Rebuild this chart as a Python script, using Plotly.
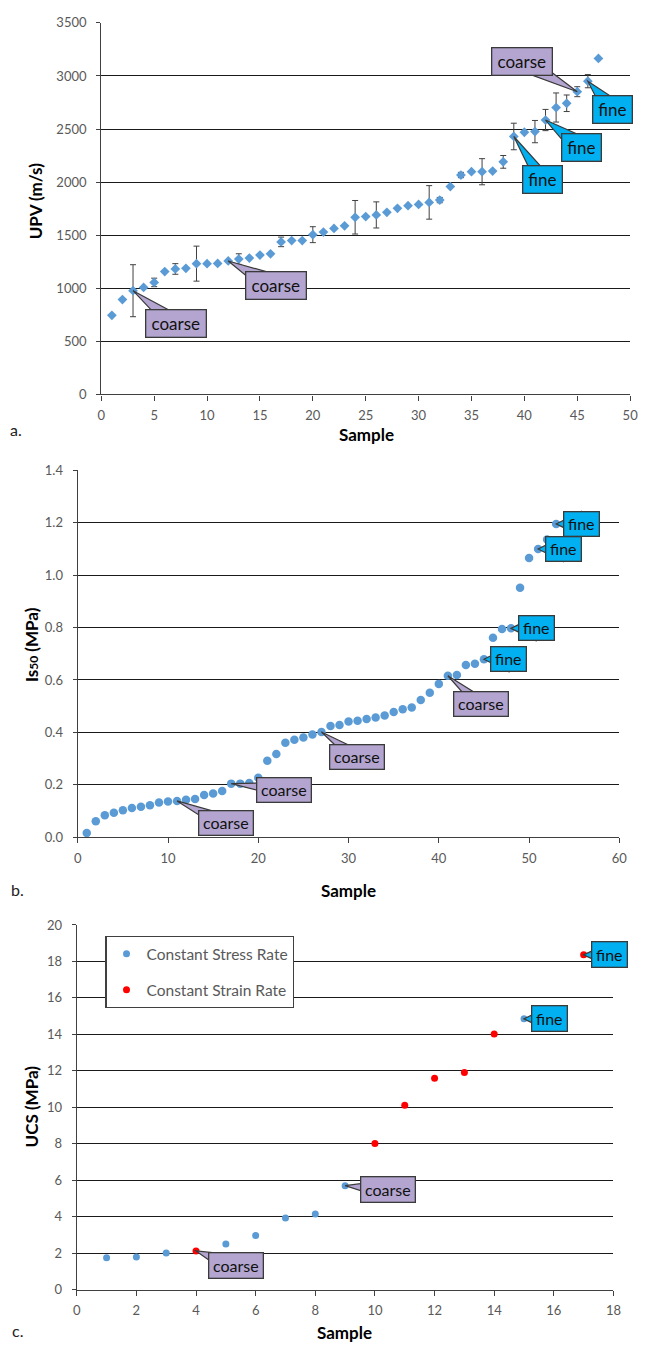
import math
import plotly.graph_objects as go

# ---------------- data ----------------
# Panel a: UPV (m/s) per sample, with error bars
upv_sample = list(range(1, 48))
upv_value = [745, 894, 977, 1008, 1055, 1157, 1182, 1188, 1232, 1232,
             1234, 1257, 1275, 1285, 1313, 1325, 1437, 1449, 1449, 1505,
             1530, 1564, 1589, 1669, 1676, 1691, 1716, 1753, 1778, 1790,
             1809, 1831, 1958, 2067, 2098, 2098, 2104, 2191, 2430, 2470,
             2476, 2585, 2703, 2743, 2852, 2951, 3165]
upv_error = [0, 0, 245, 0, 40, 0, 50, 0, 165, 0,
             0, 0, 50, 0, 0, 0, 45, 0, 0, 75,
             0, 0, 0, 158, 0, 123, 0, 0, 0, 0,
             158, 25, 0, 25, 0, 123, 0, 60, 125, 0,
             105, 100, 137, 78, 47, 62, 0]

# Panel b: Is50 (MPa) per sample
is50_sample = list(range(1, 54))
is50_value = [0.015, 0.060, 0.083, 0.093, 0.102, 0.111, 0.116, 0.121, 0.132, 0.136,
              0.138, 0.142, 0.145, 0.161, 0.166, 0.176, 0.204, 0.204, 0.206, 0.226,
              0.291, 0.317, 0.360, 0.372, 0.380, 0.392, 0.401, 0.424, 0.428, 0.441,
              0.444, 0.451, 0.457, 0.464, 0.478, 0.488, 0.495, 0.523, 0.551, 0.585,
              0.616, 0.619, 0.657, 0.662, 0.679, 0.761, 0.795, 0.797, 0.952, 1.066,
              1.100, 1.136, 1.196]

# Panel c: UCS (MPa)
stress_sample = [1, 2, 3, 5, 6, 7, 8, 9, 15]
stress_value = [1.74, 1.79, 2.01, 2.50, 2.97, 3.92, 4.14, 5.70, 14.85]
strain_sample = [4, 10, 11, 12, 13, 14, 17]
strain_value = [2.12, 8.01, 10.11, 11.59, 11.90, 14.02, 18.36]

series_names = ["Constant Stress Rate", "Constant Strain Rate"]

# callouts: (sample, label) / (series, sample, label)
callouts_a = [(3, "coarse"), (12, "coarse"), (45, "coarse"), (46, "fine"), (42, "fine"), (39, "fine")]
callouts_b = [(11, "coarse"), (17, "coarse"), (27, "coarse"), (41, "coarse"),
              (45, "fine"), (48, "fine"), (51, "fine"), (53, "fine")]
callouts_c = [("strain", 4, "coarse"), ("stress", 9, "coarse"), ("stress", 15, "fine"), ("strain", 17, "fine")]

# ---------------- styling ----------------
PAGE_W, PAGE_H = 646, 1351
OX, OY = 8, 8                      # default page body margin
W, H = PAGE_W - OX, PAGE_H - 2 * OY
FONT = "Lato, 'Open Sans', sans-serif"
BLUE = "#5B9BD5"
RED = "#FF0000"
COARSE = "#B3A5CF"
FINE = "#00B0F0"
EDGE = "#3A3A3A"
TICKC = "#595959"

def px_x(a, b):
    return [(a - OX) / W, (b - OX) / W]

def px_y(top, bottom):
    return [1 - (bottom - OY) / H, 1 - (top - OY) / H]

fig = go.Figure()

fig.add_trace(go.Scatter(
    x=upv_sample, y=upv_value, mode="markers", xaxis="x", yaxis="y",
    marker=dict(symbol="diamond", size=7.5, color=BLUE),
    error_y=dict(type="data", array=upv_error, visible=True, color="#404040", thickness=1, width=3),
    showlegend=False))

fig.add_trace(go.Scatter(
    x=is50_sample, y=is50_value, mode="markers", xaxis="x2", yaxis="y2",
    marker=dict(symbol="circle", size=8.5, color=BLUE), showlegend=False))

fig.add_trace(go.Scatter(
    x=stress_sample, y=stress_value, mode="markers", xaxis="x3", yaxis="y3",
    marker=dict(symbol="circle", size=7, color=BLUE), name=series_names[0],
    legendgroup="g1"))
fig.add_trace(go.Scatter(
    x=strain_sample, y=strain_value, mode="markers", xaxis="x3", yaxis="y3",
    marker=dict(symbol="circle", size=7, color=RED), name=series_names[1],
    legendgroup="g2"))

def xaxis_cfg(domain, rng, dtick, anchor):
    return dict(domain=domain, range=rng, dtick=dtick, tick0=0, anchor=anchor,
                showgrid=False, zeroline=False, showline=True, linecolor="#404040", linewidth=1.3,
                ticks="outside", ticklen=5, tickwidth=1.3, tickcolor="#404040",
                tickfont=dict(family=FONT, size=13, color=TICKC), ticklabelstandoff=4,
                ticklabeloverflow="allow")

def yaxis_cfg(domain, rng, dtick, anchor, fmt=None):
    d = dict(domain=domain, range=rng, dtick=dtick, tick0=0, anchor=anchor,
             showgrid=True, gridcolor="#1A1A1A", gridwidth=1.2, zeroline=False,
             showline=True, linecolor="#404040", linewidth=1.3,
             ticks="outside", ticklen=4, tickwidth=1.3, tickcolor="#404040",
             tickfont=dict(family=FONT, size=13, color=TICKC), ticklabelstandoff=7)
    if fmt:
        d["tickformat"] = fmt
    return d

fig.update_layout(
    width=W, height=H, margin=dict(l=0, r=0, t=0, b=0),
    paper_bgcolor="white", plot_bgcolor="white",
    xaxis=xaxis_cfg(px_x(99, 638), [0, 50], 5, "y"),
    yaxis=yaxis_cfg(px_y(15, 391), [0, 3500], 500, "x"),
    xaxis2=xaxis_cfg(px_x(75, 627), [0, 60], 10, "y2"),
    yaxis2=yaxis_cfg(px_y(468, 839), [0, 1.4], 0.2, "x2", ".1f"),
    xaxis3=xaxis_cfg(px_x(74, 621), [0, 18], 2, "y3"),
    yaxis3=yaxis_cfg(px_y(928, 1297), [0, 20], 2, "x3"),
    legend=dict(x=(103 - OX) / W, y=1 - (939 - OY) / H, xanchor="left", yanchor="top",
                bgcolor="white", bordercolor="#404040", borderwidth=1.3,
                font=dict(family=FONT, size=15.5, color=TICKC),
                tracegroupgap=13, traceorder="grouped", itemwidth=30),
)

# ---------------- callouts ----------------
def callout(xref, yref, x, y, text, dx, dy, w, h, fill, fsize, edge_half):
    L = math.hypot(dx, dy)
    ux, uy = dx / L, dy / L
    se = min((w / 2) / abs(dx) if dx else 1e9, (h / 2) / abs(dy) if dy else 1e9)
    frac = max(1 - se, 0.15)
    half = edge_half / frac
    pxv, pyv = -uy, ux
    b1 = (dx + pxv * half, dy + pyv * half)
    b2 = (dx - pxv * half, dy - pyv * half)
    path = f"M0,0 L{b1[0]:.2f},{-b1[1]:.2f} L{b2[0]:.2f},{-b2[1]:.2f} Z"
    fig.add_shape(type="path", xref=xref, yref=yref, xsizemode="pixel", ysizemode="pixel",
                  xanchor=x, yanchor=y, path=path, fillcolor=fill,
                  line=dict(color=EDGE, width=1.2), layer="above")
    fig.add_annotation(x=x, y=y, xref=xref, yref=yref, ax=dx, ay=dy, text=text,
                       showarrow=True, arrowcolor="rgba(0,0,0,0)", arrowwidth=0.1,
                       bgcolor=fill, bordercolor=EDGE, borderwidth=1.3, borderpad=0,
                       width=w - 2, height=h - 2, align="center", valign="middle",
                       font=dict(family=FONT, size=fsize, color="#111111"))

offs_a = [(43, 33), (48, 25), (-55, -30), (25, 28), (36, 27), (29, 43)]
for (s, lab), (dx, dy) in zip(callouts_a, offs_a):
    w = 61 if lab == "coarse" else 40
    callout("x", "y", s, upv_value[upv_sample.index(s)], lab, dx, dy, w, 28,
            COARSE if lab == "coarse" else FINE, 17, 5)

offs_b = [(49, 22), (53, 6), (36, 25), (33, 28), (25, 0), (25, 0), (25, 0), (25, 0)]
for (s, lab), (dx, dy) in zip(callouts_b, offs_b):
    w = 55 if lab == "coarse" else 36
    callout("x2", "y2", s, is50_value[is50_sample.index(s)], lab, dx, dy, w, 25,
            COARSE if lab == "coarse" else FINE, 16, 3.5)

offs_c = [(40, 15), (43, 4), (25, 0), (25.5, 0)]
for (ser, s, lab), (dx, dy) in zip(callouts_c, offs_c):
    if ser == "stress":
        v = stress_value[stress_sample.index(s)]
    else:
        v = strain_value[strain_sample.index(s)]
    w = 55 if lab == "coarse" else 36
    callout("x3", "y3", s, v, lab, dx, dy, w, 26,
            COARSE if lab == "coarse" else FINE, 16, 3.5)

# ---------------- titles / panel labels ----------------
def txt(x, y, s, size=17, bold=True, angle=0, color="#000000"):
    fig.add_annotation(x=(x - OX) / W, y=1 - (y - OY) / H, xref="paper", yref="paper",
                       text=(f"<b>{s}</b>" if bold else s),
                       showarrow=False, textangle=angle, xanchor="center", yanchor="middle",
                       font=dict(family=FONT, size=size, color=color))

txt(32, 196, "UPV (m/s)", angle=-90)
txt(369, 432, "Sample")
txt(12, 427, "a.", size=16, bold=False, color="#222222")

txt(28, 644, "Is<span style='font-size:12px'>50</span> (MPa)", angle=-90)
txt(351, 893, "Sample")
txt(14, 892, "b.", size=16, bold=False, color="#222222")

txt(28, 1112, "UCS (MPa)", angle=-90)
txt(347, 1340, "Sample")
txt(14, 1338, "c.", size=16, bold=False, color="#222222")

fig.write_html("out.html", config={"displayModeBar": False})
